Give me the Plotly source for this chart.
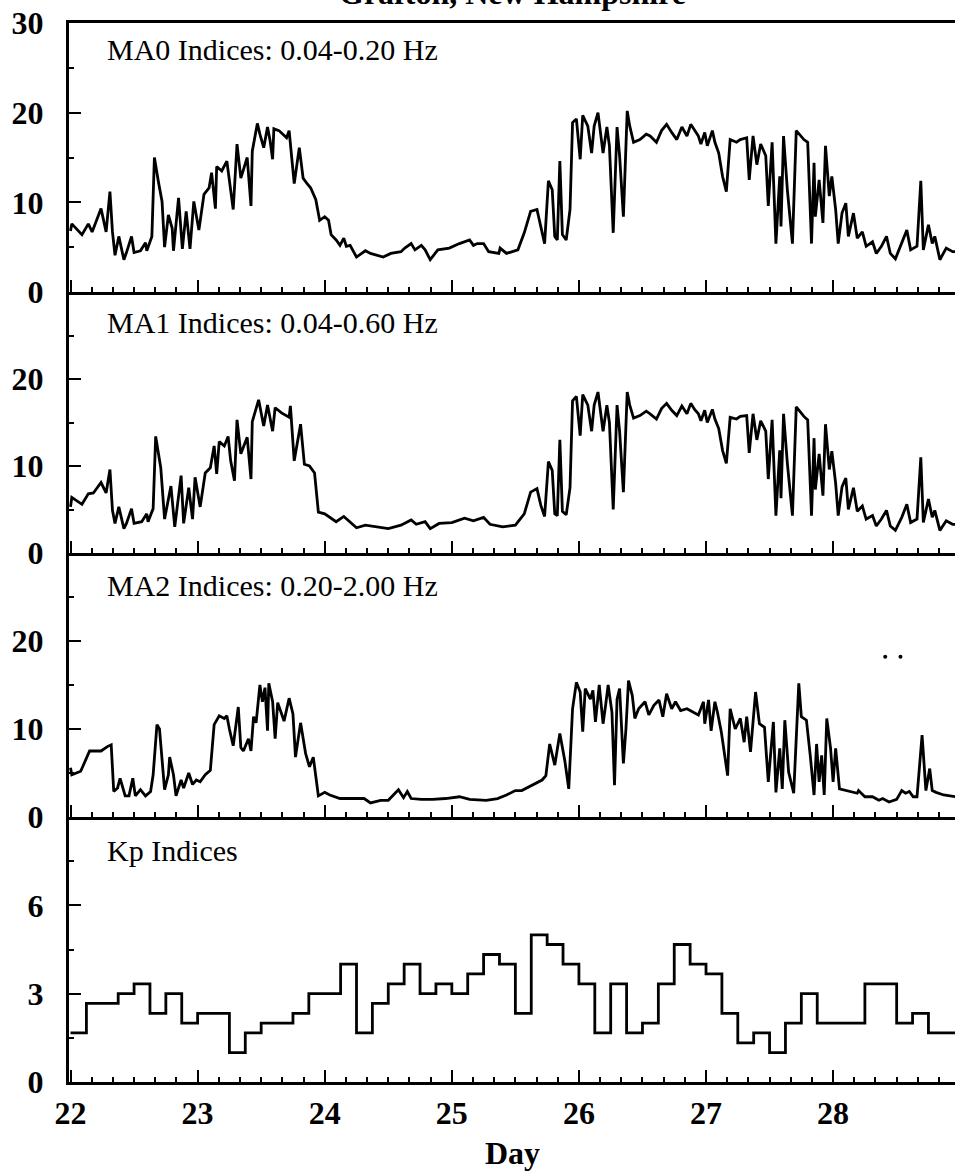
import plotly.graph_objects as go

# ---------------- data ----------------
# MA0 indices (0.04-0.20 Hz)
ma0_day = [22.00, 22.01, 22.09, 22.14, 22.17, 22.24, 22.28, 22.31, 22.33, 22.35, 22.38, 22.42, 22.44, 22.48,
           22.50, 22.55, 22.59, 22.60, 22.64, 22.66, 22.69, 22.72, 22.74, 22.77, 22.80, 22.81, 22.85, 22.88,
           22.91, 22.94, 22.97, 23.01, 23.05, 23.09, 23.11, 23.14, 23.15, 23.19, 23.23, 23.26, 23.28, 23.31,
           23.34, 23.39, 23.42, 23.43, 23.47, 23.49, 23.52, 23.55, 23.57, 23.59, 23.60, 23.64, 23.70, 23.72,
           23.76, 23.80, 23.83, 23.86, 23.89, 23.93, 23.96, 24.00, 24.03, 24.05, 24.09, 24.12, 24.15, 24.17,
           24.20, 24.25, 24.32, 24.36, 24.46, 24.52, 24.60, 24.63, 24.68, 24.71, 24.76, 24.79, 24.83, 24.89,
           24.98, 25.06, 25.10, 25.14, 25.17, 25.20, 25.25, 25.29, 25.37, 25.38, 25.43, 25.52, 25.57, 25.62,
           25.67, 25.70, 25.73, 25.76, 25.79, 25.81, 25.83, 25.85, 25.87, 25.90, 25.93, 25.95, 25.98, 26.01,
           26.03, 26.07, 26.10, 26.12, 26.15, 26.19, 26.22, 26.24, 26.27, 26.30, 26.32, 26.35, 26.36, 26.38,
           26.40, 26.43, 26.48, 26.53, 26.56, 26.61, 26.65, 26.69, 26.73, 26.77, 26.81, 26.85, 26.88, 26.91,
           26.94, 26.96, 26.99, 27.01, 27.05, 27.07, 27.10, 27.13, 27.16, 27.19, 27.24, 27.27, 27.32, 27.34,
           27.37, 27.40, 27.43, 27.47, 27.49, 27.52, 27.55, 27.58, 27.59, 27.61, 27.64, 27.68, 27.71, 27.77,
           27.80, 27.83, 27.85, 27.86, 27.89, 27.92, 27.94, 27.97, 27.99, 28.02, 28.04, 28.07, 28.10, 28.12,
           28.16, 28.19, 28.23, 28.26, 28.31, 28.34, 28.38, 28.42, 28.45, 28.49, 28.54, 28.58, 28.61, 28.66,
           28.69, 28.71, 28.75, 28.78, 28.80, 28.84, 28.89, 28.94, 28.99]
ma0_val = [6.8, 7.6, 6.4, 7.6, 6.7, 9.3, 6.7, 11.2, 6.7, 4.1, 6.2, 3.6, 4.4, 6.2,
           4.4, 4.6, 5.5, 4.6, 6.2, 15.0, 12.4, 10.1, 5.0, 8.6, 7.1, 4.6, 10.5, 4.8,
           9.0, 4.8, 10.1, 6.9, 10.9, 11.6, 13.3, 9.3, 14.0, 13.5, 14.6, 11.6, 9.2, 16.5,
           12.7, 15.0, 9.6, 15.7, 18.8, 17.6, 16.1, 18.4, 16.9, 14.8, 18.2, 18.0, 17.2, 18.0,
           12.1, 16.1, 12.7, 12.1, 11.6, 10.3, 8.0, 8.4, 8.0, 6.4, 5.8, 5.2, 6.0, 5.1,
           5.2, 3.9, 4.6, 4.3, 3.9, 4.3, 4.5, 4.9, 5.4, 4.7, 5.2, 4.7, 3.6, 4.7,
           4.9, 5.4, 5.6, 5.8, 5.2, 5.4, 5.4, 4.5, 4.3, 4.9, 4.3, 4.7, 6.6, 9.0,
           9.2, 7.1, 5.4, 12.4, 11.4, 6.2, 5.8, 14.6, 6.4, 5.8, 9.2, 18.9, 19.3, 14.8,
           19.7, 18.5, 15.5, 18.5, 20.0, 15.5, 18.4, 16.3, 6.6, 18.4, 15.2, 8.4, 12.2, 20.2,
           18.5, 16.7, 17.0, 17.6, 17.4, 16.7, 18.0, 18.7, 17.8, 17.0, 18.4, 17.4, 18.7, 18.0,
           17.4, 16.5, 17.8, 16.3, 18.0, 16.7, 15.5, 12.9, 11.2, 17.0, 16.7, 17.0, 17.2, 12.5,
           17.4, 14.2, 16.5, 15.2, 9.6, 16.7, 5.4, 12.9, 7.3, 17.4, 11.4, 5.4, 18.0, 17.0,
           16.7, 5.4, 14.4, 8.4, 12.5, 7.7, 16.3, 10.7, 12.9, 9.2, 5.4, 8.8, 9.9, 6.2,
           8.8, 6.0, 6.7, 5.1, 5.6, 4.3, 5.1, 6.2, 4.3, 3.7, 5.4, 6.9, 4.7, 5.1,
           12.4, 4.7, 7.5, 5.4, 6.2, 3.6, 4.9, 4.5, 4.5]

# MA1 indices (0.04-0.60 Hz)
ma1_day = [22.00, 22.01, 22.09, 22.14, 22.18, 22.24, 22.28, 22.31, 22.33, 22.35, 22.38, 22.42, 22.44, 22.48,
           22.50, 22.56, 22.60, 22.61, 22.65, 22.67, 22.71, 22.74, 22.79, 22.82, 22.87, 22.89, 22.93, 22.96,
           22.98, 23.02, 23.06, 23.10, 23.13, 23.15, 23.17, 23.21, 23.24, 23.26, 23.29, 23.31, 23.34, 23.39,
           23.42, 23.43, 23.48, 23.52, 23.55, 23.59, 23.61, 23.66, 23.72, 23.73, 23.76, 23.81, 23.84, 23.88,
           23.92, 23.95, 24.00, 24.05, 24.09, 24.15, 24.20, 24.25, 24.32, 24.40, 24.50, 24.60, 24.68, 24.72,
           24.79, 24.83, 24.90, 25.00, 25.10, 25.17, 25.25, 25.30, 25.40, 25.50, 25.57, 25.62, 25.67, 25.70,
           25.73, 25.76, 25.79, 25.81, 25.83, 25.85, 25.87, 25.90, 25.93, 25.95, 25.98, 26.01, 26.03, 26.07,
           26.10, 26.12, 26.15, 26.19, 26.22, 26.24, 26.27, 26.30, 26.32, 26.35, 26.36, 26.38, 26.40, 26.43,
           26.48, 26.53, 26.56, 26.61, 26.65, 26.69, 26.73, 26.77, 26.81, 26.85, 26.88, 26.91, 26.94, 26.96,
           26.99, 27.01, 27.05, 27.07, 27.10, 27.13, 27.16, 27.19, 27.24, 27.27, 27.32, 27.34, 27.37, 27.40,
           27.43, 27.47, 27.49, 27.52, 27.55, 27.58, 27.59, 27.61, 27.64, 27.68, 27.71, 27.77, 27.80, 27.83,
           27.85, 27.86, 27.89, 27.92, 27.94, 27.97, 27.99, 28.02, 28.04, 28.07, 28.10, 28.12, 28.16, 28.19,
           28.23, 28.26, 28.31, 28.34, 28.38, 28.42, 28.45, 28.49, 28.54, 28.58, 28.61, 28.66, 28.69, 28.71,
           28.75, 28.78, 28.80, 28.84, 28.89, 28.94, 28.99]
ma1_val = [5.3, 6.4, 5.6, 6.8, 6.9, 8.1, 6.9, 9.6, 4.9, 3.4, 5.3, 2.8, 3.4, 5.1,
           3.4, 3.6, 4.5, 3.6, 5.1, 13.4, 9.8, 3.9, 7.7, 3.0, 8.9, 3.4, 7.5, 3.9,
           8.7, 5.3, 9.2, 9.8, 12.3, 9.1, 12.8, 12.3, 13.4, 10.6, 8.3, 15.3, 11.4, 13.3,
           8.5, 15.1, 17.6, 14.6, 17.0, 14.0, 16.7, 16.1, 15.6, 16.9, 10.6, 14.8, 10.2, 10.0,
           9.2, 4.7, 4.5, 4.0, 3.6, 4.2, 3.5, 2.9, 3.2, 3.0, 2.8, 3.2, 3.8, 3.3,
           3.6, 2.8, 3.4, 3.5, 4.0, 3.7, 4.1, 3.3, 3.0, 3.2, 4.5, 7.0, 7.4, 5.5,
           4.2, 10.5, 9.5, 4.5, 4.3, 13.0, 4.8, 4.4, 7.5, 17.5, 18.0, 13.5, 18.2, 17.0,
           14.0, 17.0, 18.5, 14.0, 17.0, 15.0, 5.0, 17.0, 14.0, 7.0, 11.0, 18.5, 17.0, 15.5,
           15.8, 16.3, 16.0, 15.4, 16.6, 17.2, 16.4, 15.8, 16.9, 16.0, 17.2, 16.5, 16.0, 15.2,
           16.4, 15.0, 16.5, 15.4, 14.3, 11.8, 10.3, 15.6, 15.4, 15.7, 15.8, 11.5, 16.0, 13.0,
           15.2, 14.0, 8.5, 15.3, 4.3, 11.8, 6.3, 16.0, 10.3, 4.3, 16.8, 15.7, 15.3, 4.3,
           13.2, 7.3, 11.4, 6.6, 14.8, 9.6, 11.7, 8.0, 4.3, 7.6, 8.6, 5.0, 7.5, 4.8,
           5.4, 3.9, 4.3, 3.1, 3.9, 4.9, 3.1, 2.6, 4.1, 5.6, 3.5, 3.9, 11.0, 3.5,
           6.2, 4.1, 4.9, 2.6, 3.7, 3.3, 3.3]

# MA2 indices (0.20-2.00 Hz)
ma2_day = [22.00, 22.01, 22.08, 22.15, 22.18, 22.24, 22.29, 22.32, 22.34, 22.37, 22.39, 22.43, 22.46, 22.49,
           22.51, 22.55, 22.59, 22.63, 22.65, 22.68, 22.70, 22.72, 22.74, 22.77, 22.78, 22.81, 22.83, 22.87,
           22.89, 22.93, 22.96, 22.99, 23.02, 23.06, 23.10, 23.13, 23.17, 23.21, 23.23, 23.25, 23.28, 23.32,
           23.34, 23.36, 23.40, 23.42, 23.44, 23.46, 23.49, 23.51, 23.53, 23.55, 23.56, 23.59, 23.61, 23.63,
           23.68, 23.72, 23.75, 23.77, 23.81, 23.85, 23.88, 23.91, 23.93, 23.95, 24.00, 24.04, 24.12, 24.22,
           24.31, 24.36, 24.44, 24.50, 24.58, 24.62, 24.65, 24.68, 24.76, 24.85, 24.95, 25.06, 25.14, 25.27,
           25.36, 25.43, 25.50, 25.55, 25.60, 25.65, 25.71, 25.74, 25.77, 25.81, 25.85, 25.89, 25.92, 25.95,
           25.98, 26.01, 26.03, 26.05, 26.09, 26.11, 26.13, 26.16, 26.19, 26.21, 26.23, 26.26, 26.28, 26.30,
           26.32, 26.35, 26.37, 26.39, 26.42, 26.44, 26.47, 26.52, 26.55, 26.59, 26.63, 26.66, 26.69, 26.73,
           26.76, 26.80, 26.85, 26.90, 26.94, 26.98, 26.99, 27.02, 27.04, 27.07, 27.09, 27.12, 27.15, 27.17,
           27.19, 27.23, 27.27, 27.30, 27.32, 27.35, 27.39, 27.42, 27.46, 27.49, 27.53, 27.55, 27.58, 27.60,
           27.62, 27.65, 27.69, 27.73, 27.75, 27.79, 27.82, 27.85, 27.87, 27.89, 27.91, 27.93, 27.95, 27.98,
           28.00, 28.02, 28.05, 28.11, 28.19, 28.20, 28.25, 28.31, 28.36, 28.39, 28.44, 28.50, 28.54, 28.57,
           28.60, 28.63, 28.66, 28.70, 28.72, 28.73, 28.76, 28.78, 28.81, 28.87, 28.97]
ma2_val = [5.6, 4.8, 5.2, 7.5, 7.5, 7.5, 8.0, 8.2, 2.9, 3.3, 4.4, 2.4, 2.4, 4.4,
           2.4, 3.1, 2.4, 2.9, 4.8, 10.5, 10.0, 6.8, 3.1, 4.8, 6.8, 4.8, 2.4, 4.2,
           3.3, 5.0, 3.7, 4.2, 4.0, 4.8, 5.3, 10.5, 11.5, 11.2, 11.5, 10.0, 8.1, 12.5,
           7.9, 7.5, 8.9, 7.5, 11.4, 10.7, 15.0, 13.1, 14.7, 9.8, 15.2, 13.1, 8.9, 13.0,
           10.9, 13.5, 11.7, 6.8, 10.7, 7.2, 5.7, 6.8, 4.8, 2.4, 2.8, 2.5, 2.1, 2.1,
           2.1, 1.6, 1.9, 1.9, 3.1, 2.2, 2.9, 2.1, 2.0, 2.0, 2.1, 2.3, 2.0, 1.9,
           2.1, 2.5, 3.0, 3.0, 3.4, 3.8, 4.2, 4.7, 8.3, 5.9, 9.5, 6.3, 3.2, 12.3,
           15.3, 14.2, 9.7, 14.6, 13.4, 14.4, 10.8, 15.0, 10.6, 12.7, 15.0, 11.9, 3.6, 13.4,
           14.6, 6.1, 10.0, 15.5, 13.8, 11.2, 12.3, 13.1, 11.6, 12.7, 13.3, 11.4, 14.0, 12.3,
           13.1, 12.1, 12.3, 11.9, 11.6, 13.1, 10.6, 13.3, 9.8, 13.1, 11.9, 9.7, 6.6, 4.7,
           12.3, 10.0, 11.2, 8.5, 11.4, 7.4, 14.2, 10.6, 10.2, 4.0, 10.8, 2.8, 7.8, 3.2,
           11.0, 5.1, 2.7, 15.2, 11.4, 11.0, 7.0, 2.5, 8.3, 4.0, 7.0, 2.5, 11.2, 7.8,
           4.0, 7.8, 3.2, 3.0, 2.7, 3.0, 2.3, 2.3, 1.9, 2.1, 1.7, 2.0, 3.0, 2.7,
           2.9, 2.3, 2.3, 9.3, 4.7, 3.0, 5.5, 3.0, 2.8, 2.5, 2.3]

# two isolated MA2 samples
ma2_dot_day = [28.41, 28.53]
ma2_dot_val = [18.2, 18.2]

# Kp indices, 3-hour intervals starting at day 22.0
kp_start = 22.0
kp_step = 0.125
kp_val = [1.67, 2.67, 2.67, 3.0, 3.33, 2.33, 3.0, 2.0,
          2.33, 2.33, 1.0, 1.67, 2.0, 2.0, 2.33, 3.0,
          3.0, 4.0, 1.67, 2.67, 3.33, 4.0, 3.0, 3.33,
          3.0, 3.67, 4.33, 4.0, 2.33, 5.0, 4.67, 4.0,
          3.33, 1.67, 3.33, 1.67, 2.0, 3.33, 4.67, 4.0,
          3.67, 2.33, 1.33, 1.67, 1.0, 2.0, 3.0, 2.0,
          2.0, 2.0, 3.33, 3.33, 2.0, 2.33, 1.67, 1.67]

title_text = "Grafton, New Hampshire"
panel_labels = ["MA0 Indices: 0.04-0.20 Hz", "MA1 Indices: 0.04-0.60 Hz",
                "MA2 Indices: 0.20-2.00 Hz", "Kp Indices"]
x_label = "Day"

# ---------------- figure ----------------
W, H = 955, 1173
ML, MR, MT, MB = 69, 0, 23, 91
plot_h = H - MT - MB

SERIF = "Liberation Serif"
tick_font = dict(family=SERIF, size=32, color="black", weight="bold")

kp_day = [kp_start + i * kp_step for i in range(len(kp_val))] + [kp_start + len(kp_val) * kp_step]
kp_plot = kp_val + [kp_val[-1]]

line = dict(color="black", width=2.8)
fig = go.Figure()
fig.add_trace(go.Scatter(x=ma0_day, y=ma0_val, mode="lines", line=line, xaxis="x", yaxis="y"))
fig.add_trace(go.Scatter(x=ma1_day, y=ma1_val, mode="lines", line=line, xaxis="x2", yaxis="y2"))
fig.add_trace(go.Scatter(x=ma2_day, y=ma2_val, mode="lines", line=line, xaxis="x3", yaxis="y3"))
fig.add_trace(go.Scatter(x=ma2_dot_day, y=ma2_dot_val, mode="markers",
                         marker=dict(color="black", size=4), xaxis="x3", yaxis="y3"))
fig.add_trace(go.Scatter(x=kp_day, y=kp_plot, mode="lines", line=dict(color="black", width=2.8, shape="hv"),
                         xaxis="x4", yaxis="y4"))

# panel boundaries in pixels from the top of the plot area
bounds = [0, 269, 530, 794, plot_h]
domains = []
for i in range(4):
    top = 1 - bounds[i] / plot_h
    bot = 1 - bounds[i + 1] / plot_h
    domains.append([max(bot, 0), min(top, 1)])

x_range = [21.988, 28.959]
layout = dict(width=W, height=H, margin=dict(l=ML, r=MR, t=MT, b=MB),
              paper_bgcolor="white", plot_bgcolor="white", showlegend=False)

for i in range(4):
    sx = "" if i == 0 else str(i + 1)
    last = i == 3
    layout["xaxis" + sx] = dict(
        domain=[0, 1], anchor="y" + sx, range=x_range, showgrid=False, zeroline=False,
        showline=True, linecolor="black", linewidth=3, mirror=(i == 0),
        ticks="inside", tick0=22, dtick=1, ticklen=12, tickwidth=2, tickcolor="black",
        minor=dict(ticks="inside", tick0=22, dtick=1 / 6, ticklen=5, tickwidth=2, tickcolor="black"),
        showticklabels=last, tickfont=tick_font, ticklabelstandoff=1,
        **({} if i == 0 else dict(matches="x")))
    if i < 3:
        ytv = [0, 10, 20, 30] if i == 0 else [0, 10, 20]
        yr = [0, 30]
        minor_vals = [5, 15, 25]
    else:
        ytv = [0, 3, 6]
        yr = [0, 9]
        minor_vals = [1.5, 4.5, 7.5]
    layout["yaxis" + sx] = dict(
        domain=domains[i], anchor="x" + sx, range=yr, showgrid=False, zeroline=False,
        showline=True, linecolor="black", linewidth=3,
        ticks="inside", tickmode="array", tickvals=ytv, ticktext=[str(v) for v in ytv],
        ticklen=12, tickwidth=2, tickcolor="black",
        minor=dict(ticks="inside", tickmode="array", tickvals=minor_vals, ticklen=5, tickwidth=2,
                   tickcolor="black"),
        tickfont=tick_font, ticklabelstandoff=16)

fig.update_layout(**layout)


def py(pixel_y):
    return (H - MB - pixel_y) / plot_h


label_centers = [49, 322, 585, 850]
for txt, yc in zip(panel_labels, label_centers):
    fig.add_annotation(text=txt, xref="paper", yref="paper", x=(105 - ML) / (W - ML - MR), y=py(yc),
                       xanchor="left", yanchor="middle", showarrow=False,
                       font=dict(family=SERIF, size=30, color="black"))

fig.add_annotation(text=x_label, xref="paper", yref="paper", x=0.5, y=py(1153),
                   xanchor="center", yanchor="middle", showarrow=False, font=tick_font)
fig.add_annotation(text=title_text, xref="paper", yref="paper", x=(512 - ML) / (W - ML - MR), y=py(-7),
                   xanchor="center", yanchor="middle", showarrow=False, font=tick_font)

fig.write_html("out.html")
